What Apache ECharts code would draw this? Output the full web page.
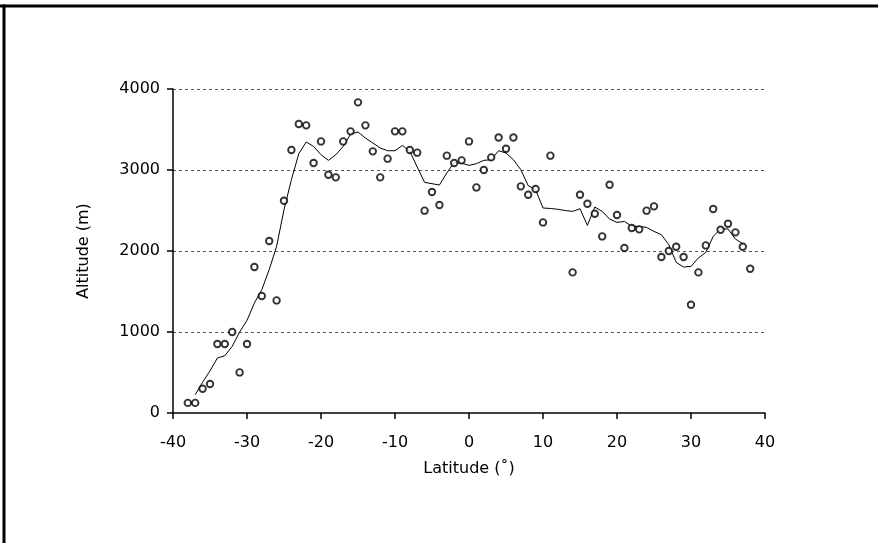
<!DOCTYPE html>
<html>
<head>
<meta charset="utf-8">
<script src="https://cdn.jsdelivr.net/npm/echarts@6/dist/echarts.min.js"></script>
<style>
  html, body { margin: 0; padding: 0; background: #fff; }
  #chart { width: 878px; height: 543px; }
</style>
</head>
<body>
<div id="chart"></div>
<script>
// observed station altitudes by latitude
const obsLat = [
  -38, -37, -36, -35, -34, -33, -32, -31, -30, -29, -28, -27, -26, -25, -24, -23, -22, -21, -20, -19,
  -18, -17, -16, -15, -14, -13, -12, -11, -10, -9, -8, -7, -6, -5, -4, -3, -2, -1, 0, 1,
  2, 3, 4, 5, 6, 7, 8, 9, 10, 11, 14, 15, 16, 17, 18, 19, 20, 21, 22, 23,
  24, 25, 26, 27, 28, 29, 30, 31, 32, 33, 34, 35, 36, 37, 38
];
const obsAlt = [
  125, 125, 300, 358, 852, 852, 1000, 501, 852, 1802, 1444, 2123, 1390, 2621, 3247, 3568, 3551, 3086, 3353, 2942,
  2909, 3353, 3477, 3835, 3551, 3230, 2909, 3140, 3477, 3477, 3247, 3214, 2498, 2728, 2568, 3177, 3086, 3119, 3353, 2785,
  3000, 3156, 3402, 3263, 3402, 2798, 2695, 2765, 2353, 3177, 1736, 2695, 2584, 2460, 2180, 2818, 2444, 2037, 2284, 2267,
  2498, 2551, 1926, 2000, 2053, 1926, 1337, 1736, 2069, 2519, 2263, 2337, 2230, 2053, 1781
];

// smoothed profile
const fitLat = [
  -37, -36, -35, -34, -33, -32, -31, -30, -29, -28, -27, -26, -25, -24, -23, -22, -21, -20, -19, -18,
  -17, -16, -15, -14, -13, -12, -11, -10, -9, -8, -7, -6, -5, -4, -3, -2, -1, 0, 1, 2,
  3, 4, 5, 6, 7, 8, 9, 10, 11, 12, 13, 14, 15, 16, 17, 18, 19, 20, 21, 22,
  23, 24, 25, 26, 27, 28, 29, 30, 31, 32, 33, 34, 35, 36, 37
];
const fitAlt = [
  226, 380, 520, 679, 707, 822, 1000, 1143, 1358, 1522, 1769, 2057, 2510, 2880, 3201, 3346, 3291, 3189, 3119, 3189,
  3291, 3444, 3469, 3395, 3333, 3272, 3238, 3238, 3304, 3230, 3037, 2847, 2831, 2815, 2963, 3094, 3086, 3057, 3078, 3119,
  3127, 3238, 3210, 3127, 3004, 2807, 2757, 2531, 2525, 2515, 2500, 2489, 2522, 2316, 2543, 2489, 2395, 2353, 2365, 2304,
  2304, 2291, 2242, 2201, 2078, 1859, 1802, 1810, 1914, 1983, 2180, 2272, 2272, 2148, 2090
];

const xTicks = [-40, -30, -20, -10, 0, 10, 20, 30, 40];
const yTicks = [0, 1000, 2000, 3000, 4000];

const chart = echarts.init(document.getElementById('chart'));

const font = 'DejaVu Sans, sans-serif';

chart.setOption({
  animation: false,
  backgroundColor: '#fff',
  grid: { left: 173, right: 113, top: 89, bottom: 130 },
  xAxis: {
    type: 'value',
    min: xTicks[0],
    max: xTicks[xTicks.length - 1],
    interval: 10,
    name: 'Latitude (˚)',
    nameLocation: 'middle',
    nameGap: 48,
    nameTextStyle: { color: '#000', fontSize: 16, fontFamily: font },
    axisLine: { onZero: false, lineStyle: { color: '#000', width: 1.5 } },
    axisTick: { show: true, length: 6, lineStyle: { color: '#000', width: 1.5 } },
    axisLabel: { color: '#000', fontSize: 16, fontFamily: font, margin: 22 },
    splitLine: { show: false }
  },
  yAxis: {
    type: 'value',
    min: yTicks[0],
    max: yTicks[yTicks.length - 1],
    interval: 1000,
    name: 'Altitude (m)',
    nameLocation: 'middle',
    nameGap: 81,
    nameRotate: 90,
    nameTextStyle: { color: '#000', fontSize: 16, fontFamily: font },
    axisLine: { show: true, onZero: false, lineStyle: { color: '#000', width: 1.5 } },
    axisTick: { show: true, length: 6, lineStyle: { color: '#000', width: 1.5 } },
    axisLabel: { color: '#000', fontSize: 16, fontFamily: font, margin: 13, formatter: v => String(v) },
    splitLine: {
      show: true,
      showMinLine: false,
      lineStyle: { color: '#555', type: [3, 3], width: 1 }
    }
  },
  series: [
    {
      type: 'line',
      data: fitLat.map((x, i) => [x, fitAlt[i]]),
      showSymbol: false,
      lineStyle: { color: '#000', width: 1 },
      z: 2
    },
    {
      type: 'scatter',
      data: obsLat.map((x, i) => [x, obsAlt[i]]),
      symbol: 'circle',
      symbolSize: 6.5,
      itemStyle: { color: '#fff', borderColor: '#000', borderWidth: 1.9 },
      z: 3
    }
  ],
  graphic: [
    { type: 'rect', shape: { x: 0, y: 4.5, width: 878, height: 3 }, style: { fill: '#000' } },
    { type: 'rect', shape: { x: 2.5, y: 4.5, width: 3, height: 540 }, style: { fill: '#000' } }
  ]
});
</script>
</body>
</html>
